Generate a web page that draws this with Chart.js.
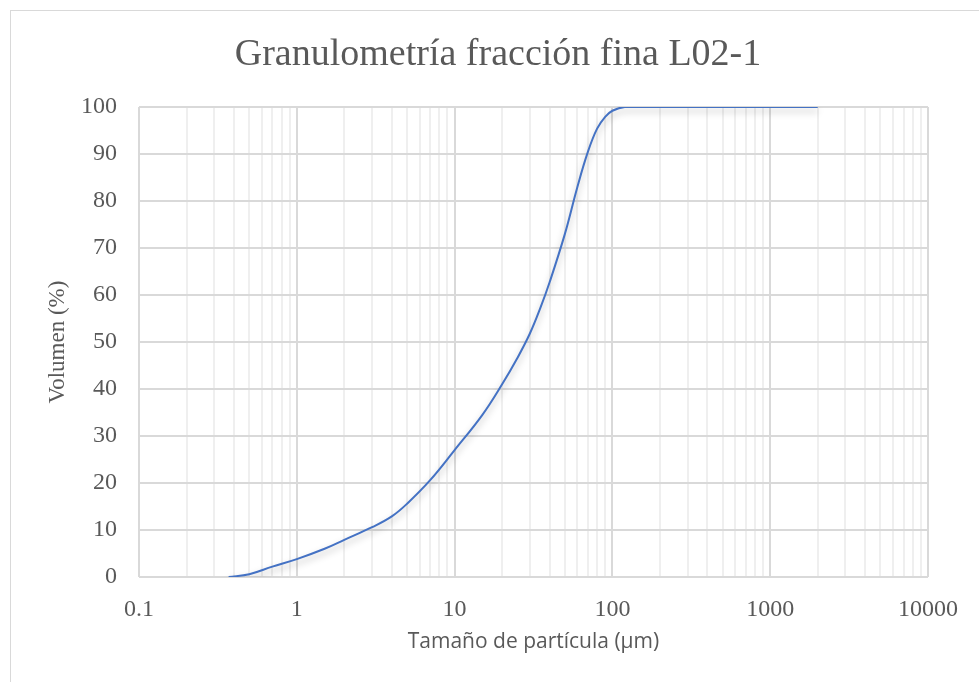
<!DOCTYPE html>
<html lang="es">
<head>
  <meta charset="UTF-8" />
  <title>Granulometría fracción fina L02-1</title>
  <style>
    body { margin: 0; background: #fff; overflow: hidden; }
    .wrap { position: relative; width: 979px; height: 682px; }
    .marco { position: absolute; left: 10px; top: 10px; width: 1000px; height: 700px; border: 1px solid #d9d9d9; }
    canvas { position: absolute; left: 0; top: 0; }
  </style>
</head>
<body>
  <div class="wrap">
    <div class="marco"></div>
    <canvas id="grafica" width="979" height="682"></canvas>
  </div>

  <script src="https://cdn.jsdelivr.net/npm/chart.js"></script>
  <script>
    // tamaño de partícula (µm) y volumen acumulado (%)
    const tamanos = [0.37, 0.5, 0.7, 1, 1.5, 2, 3, 4, 5, 7, 10, 15, 20, 25, 30, 35, 40, 50, 60, 70, 80, 90, 100, 120, 200, 500, 1000, 2000];
    const volumen = [0, 0.6, 2.2, 3.8, 6.0, 7.9, 10.6, 12.9, 15.6, 20.6, 27, 34.5, 41, 46.6, 51.8, 57.3, 62.7, 73, 83, 90.5, 95.4, 97.9, 99.2, 100, 100, 100, 100, 100];
    const decadas = [0.1, 1, 10, 100, 1000, 10000];

    const titulo = "Granulometría fracción fina L02-1";

    const puntos = tamanos.map((t, i) => ({ x: t, y: volumen[i] }));

    const esDecada = v => decadas.some(d => Math.abs(v - d) / d < 1e-6);

    const sombra = {
      id: "sombra",
      beforeDatasetDraw(chart) {
        const c = chart.ctx;
        c.save();
        c.shadowColor = "rgba(0,0,0,0.28)";
        c.shadowBlur = 7;
        c.shadowOffsetY = 4;
      },
      afterDatasetDraw(chart) {
        chart.ctx.restore();
      }
    };

    const tituloPlugin = {
      id: "tituloPlugin",
      afterDraw(chart) {
        const c = chart.ctx;
        c.save();
        c.font = "38px 'Liberation Serif'";
        c.fillStyle = "#595959";
        c.textAlign = "center";
        c.textBaseline = "middle";
        c.fillText(titulo, 498, 55);
        c.restore();
      }
    };

    new Chart(document.getElementById("grafica"), {
      type: "scatter",
      data: {
        datasets: [{
          data: puntos,
          showLine: true,
          borderColor: "#4472c4",
          borderWidth: 2,
          pointRadius: 0,
          tension: 0.4,
          fill: false
        }]
      },
      options: {
        responsive: false,
        animation: false,
        layout: { padding: { left: 0, right: 51, top: 107, bottom: 0 } },
        plugins: { legend: { display: false }, tooltip: { enabled: false } },
        scales: {
          x: {
            type: "logarithmic",
            min: 0.1,
            max: 10000,
            afterFit(scale) { scale.height = 105; },
            afterBuildTicks(scale) {
              const t = [];
              decadas.forEach(d => {
                for (let k = 1; k <= 9; k++) {
                  const v = d * k;
                  if (v <= 10000 + 1e-9) t.push({ value: v });
                }
              });
              scale.ticks = t;
            },
            ticks: {
              autoSkip: false,
              maxRotation: 0,
              padding: 18,
              color: "#595959",
              font: { family: "'Liberation Serif'", size: 24 },
              callback(v) { return esDecada(v) ? String(Number(v.toPrecision(6))) : ""; }
            },
            grid: {
              drawTicks: false,
              color: ctx => esDecada(ctx.tick.value) ? "#d9d9d9" : "#efefef",
              lineWidth: 2
            },
            border: { display: false },
            title: {
              display: true,
              text: "Tamaño de partícula (µm)",
              color: "#595959",
              font: { family: "'Open Sans'", size: 21 },
              padding: { top: 0, bottom: 27 }
            }
          },
          y: {
            min: 0,
            max: 100,
            afterFit(scale) { scale.width = 139; },
            ticks: {
              stepSize: 10,
              padding: 22,
              color: "#595959",
              font: { family: "'Liberation Serif'", size: 24 }
            },
            grid: { drawTicks: false, color: "#d9d9d9", lineWidth: 2 },
            border: { display: false },
            title: {
              display: true,
              text: "Volumen (%)",
              color: "#595959",
              font: { family: "'Liberation Serif'", size: 23 },
              padding: { top: 44, bottom: 0 }
            }
          }
        }
      },
      plugins: [sombra, tituloPlugin]
    });
  </script>
</body>
</html>
